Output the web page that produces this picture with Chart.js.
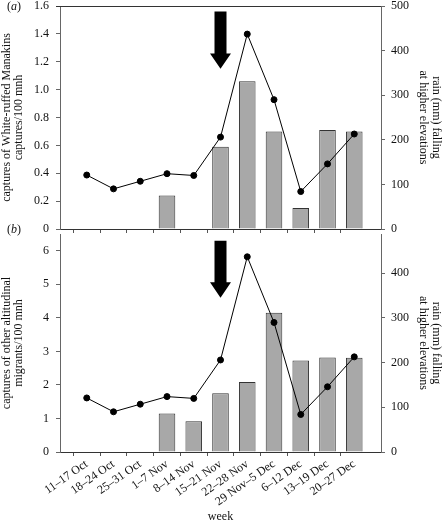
<!DOCTYPE html>
<html>
<head>
<meta charset="utf-8">
<script src="https://cdn.jsdelivr.net/npm/chart.js@4/dist/chart.umd.min.js"></script>
<style>
  body { margin: 0; background: #fff; }
  #wrap { position: relative; width: 443px; height: 523px; overflow: hidden; }
  canvas { position: absolute; left: 0; }
  #c1 { top: 0; z-index: 2; }
  #c2 { top: 229px; z-index: 1; }
  .tag { position: absolute; left: 7px; font: 12px 'Liberation Serif', serif; color: #111; z-index: 3; line-height: 12px; }
</style>
</head>
<body>
<div id="wrap">
  <canvas id="c1" width="443" height="240"></canvas>
  <canvas id="c2" width="443" height="294"></canvas>
  <div class="tag" style="top:0px">(<i>a</i>)</div>
  <div class="tag" style="top:223px">(<i>b</i>)</div>
</div>
<script>
// weeks of the study
const weeks = ['11–17 Oct', '18–24 Oct', '25–31 Oct', '1–7 Nov', '8–14 Nov', '15–21 Nov',
               '22–28 Nov', '29 Nov–5 Dec', '6–12 Dec', '13–19 Dec', '20–27 Dec'];
// captures/100 mnh
const manakins = [0, 0, 0, 0.24, 0, 0.59, 1.06, 0.70, 0.15, 0.71, 0.70];
const migrants = [0, 0, 0, 1.15, 0.92, 1.75, 2.09, 4.15, 2.73, 2.82, 2.81];
// rain (mm) at higher elevations
const rain = [121, 90, 107, 124, 120, 206, 437, 290, 84, 146, 213];

const FONT = 'Liberation Serif';
const pad = arr => [null, ...arr, null];   // one empty slot each side
const labels = ['', ...weeks, ''];

// black arrow pointing at 15-21 Nov
const arrowPlugin = {
  id: 'arrow',
  afterDatasetsDraw(chart, args, o) {
    if (!o || o.at == null) return;
    const ctx = chart.ctx;
    const x = chart.scales.x.getPixelForValue(o.at);
    const y = chart.scales.y;
    const t = y.getPixelForValue(o.top), h = y.getPixelForValue(o.head), p = y.getPixelForValue(o.tip);
    ctx.save();
    ctx.fillStyle = '#000';
    ctx.beginPath();
    ctx.moveTo(x - 6, t); ctx.lineTo(x + 6, t); ctx.lineTo(x + 6, h);
    ctx.lineTo(x + 10.5, h); ctx.lineTo(x, p); ctx.lineTo(x - 10.5, h);
    ctx.lineTo(x - 6, h); ctx.closePath();
    ctx.fill();
    if (o.frame) {
      const a = chart.chartArea;
      ctx.strokeStyle = '#333';
      ctx.lineWidth = 1;
      ctx.beginPath();
      ctx.moveTo(a.left - 4, a.top + 0.5); ctx.lineTo(a.right, a.top + 0.5);
      ctx.stroke();
    }
    ctx.restore();
  }
};

const edgeTick = c => (c.index === 0 || c.index === labels.length - 1) ? 'rgba(0,0,0,0)' : '#555';

function panel(id, bars, leftMax, leftTitle, rightMax, showX, arrow, xHeight) {
  const tickFont = { family: FONT, size: 12, lineHeight: 1 };
  return new Chart(document.getElementById(id), {
    type: 'bar',
    plugins: [arrowPlugin],
    data: {
      labels: labels,
      datasets: [
        {
          type: 'line', data: pad(rain), yAxisID: 'y2', order: 0,
          borderColor: '#000', borderWidth: 1, pointRadius: 3,
          pointBackgroundColor: '#000', pointBorderColor: '#000'
        },
        {
          type: 'bar', data: pad(bars), yAxisID: 'y', order: 1,
          backgroundColor: '#a8a8a8', borderColor: '#333', borderWidth: 1,
          barPercentage: 0.62, categoryPercentage: 1
        }
      ]
    },
    options: {
      responsive: false,
      animation: false,
      devicePixelRatio: 1,
      layout: { padding: { top: showX ? 0 : 6 } },
      plugins: { legend: { display: false }, tooltip: { enabled: false }, arrow: arrow },
      scales: {
        x: {
          type: 'category', offset: false,
          grid: { drawOnChartArea: false, tickLength: 4, tickColor: edgeTick },
          border: { color: '#333' },
          ticks: {
            display: showX, autoSkip: false, maxRotation: 35, minRotation: 35,
            padding: 2, font: tickFont, color: '#111'
          },
          title: {
            display: showX, text: 'week', font: { family: FONT, size: 12, lineHeight: 1 },
            color: '#111', padding: 0
          },
          afterFit: s => { s.height = xHeight; s.paddingLeft = 0; s.paddingRight = 0; }
        },
        y: {
          position: 'left', min: 0, max: leftMax,
          grid: { drawOnChartArea: false, tickLength: 4, color: '#666' },
          border: { color: '#666' },
          ticks: {
            stepSize: leftMax < 2 ? 0.2 : 1, includeBounds: false, padding: 7,
            font: tickFont, color: '#111',
            callback: v => leftMax < 2 ? (v === 0 ? '0' : v.toFixed(1)) : v
          },
          title: {
            display: true, text: leftTitle, font: { family: FONT, size: 12, lineHeight: 1 },
            color: '#111', padding: { top: 1, bottom: 0 }
          },
          afterFit: s => { s.width = 60; s.paddingTop = 0; s.paddingBottom = 0; }
        },
        y2: {
          position: 'right', min: 0, max: rightMax,
          grid: { drawOnChartArea: false, tickLength: 4, color: '#666' },
          border: { color: '#666' },
          ticks: { stepSize: 100, includeBounds: false, padding: 6, font: tickFont, color: '#111' },
          title: {
            display: true, text: ['rain (mm) falling', 'at higher elevations'],
            font: { family: FONT, size: 12, lineHeight: 1.1 }, color: '#111',
            padding: { top: 0, bottom: 0 }
          },
          afterFit: s => { s.width = 62; s.paddingTop = 0; s.paddingBottom = 0; }
        }
      }
    }
  });
}

panel('c1', manakins, 1.6, ['captures of White-ruffed Manakins', 'captures/100 mnh'], 500, false,
      { at: 6, top: 1.56, head: 1.26, tip: 1.15, frame: true }, 11);
panel('c2', migrants, 6.5, ['captures of other altitudinal', 'migrants/100 mnh'], 488, true,
      { at: 6, top: 6.3, head: 5.06, tip: 4.6, frame: false }, 71);
</script>
</body>
</html>
